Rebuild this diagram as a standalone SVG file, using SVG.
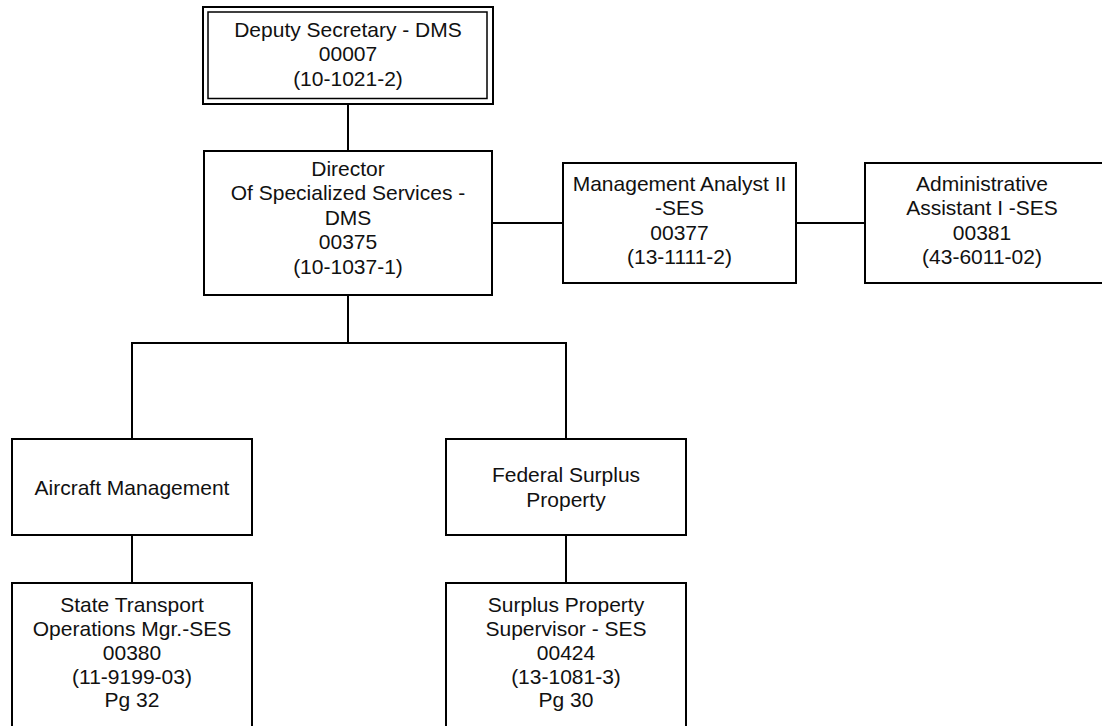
<svg xmlns="http://www.w3.org/2000/svg" width="1102" height="726" viewBox="0 0 1102 726">
  <style>
    .box { fill: #ffffff; stroke: #000000; stroke-width: 2; }
    .inner { fill: none; stroke: #000000; stroke-width: 1.5; }
    .link { fill: none; stroke: #000000; stroke-width: 2; }
    text { font-family: "Liberation Sans", Arial, sans-serif; font-size: 21px; fill: #111111; text-anchor: middle; }
  </style>
  <rect x="0" y="0" width="1102" height="726" fill="#ffffff"/>

  <!-- connectors -->
  <g id="connectors">
    <line class="link" x1="348" y1="104" x2="348" y2="151"/>
    <line class="link" x1="492" y1="223" x2="563" y2="223"/>
    <line class="link" x1="796" y1="223" x2="865" y2="223"/>
    <line class="link" x1="348" y1="295" x2="348" y2="343"/>
    <polyline class="link" points="132,439 132,343 566,343 566,439"/>
    <line class="link" x1="132" y1="535" x2="132" y2="583"/>
    <line class="link" x1="566" y1="535" x2="566" y2="583"/>
  </g>

  <!-- top position, double border -->
  <g id="deputy-secretary">
    <rect class="box" x="203" y="7" width="290" height="97" stroke-width="2.5"/>
    <rect class="inner" x="208" y="12" width="279" height="86.5"/>
    <text x="348" y="36.5">Deputy Secretary - DMS</text>
    <text x="348" y="61">00007</text>
    <text x="348" y="85.5">(10-1021-2)</text>
  </g>

  <g id="director">
    <rect class="box" x="204" y="151" width="288" height="144"/>
    <text x="348" y="175.5">Director</text>
    <text x="348" y="200">Of Specialized Services -</text>
    <text x="348" y="224.5">DMS</text>
    <text x="348" y="249">00375</text>
    <text x="348" y="273.5">(10-1037-1)</text>
  </g>

  <g id="management-analyst">
    <rect class="box" x="563" y="163" width="233" height="120"/>
    <text x="679.5" y="190.5">Management Analyst II</text>
    <text x="679.5" y="215">-SES</text>
    <text x="679.5" y="239.5">00377</text>
    <text x="679.5" y="264">(13-1111-2)</text>
  </g>

  <g id="administrative-assistant">
    <rect class="box" x="865" y="163" width="260" height="120"/>
    <text x="982" y="190.5">Administrative</text>
    <text x="982" y="215">Assistant I -SES</text>
    <text x="982" y="239.5">00381</text>
    <text x="982" y="264">(43-6011-02)</text>
  </g>

  <g id="aircraft-management">
    <rect class="box" x="12" y="439" width="240" height="96"/>
    <text x="132" y="494.5">Aircraft Management</text>
  </g>

  <g id="federal-surplus">
    <rect class="box" x="446" y="439" width="240" height="96"/>
    <text x="566" y="482">Federal Surplus</text>
    <text x="566" y="506.5">Property</text>
  </g>

  <g id="state-transport">
    <rect class="box" x="12" y="583" width="240" height="160"/>
    <text x="132" y="611.5">State Transport</text>
    <text x="132" y="635.5">Operations Mgr.-SES</text>
    <text x="132" y="659.5">00380</text>
    <text x="132" y="683.5">(11-9199-03)</text>
    <text x="132" y="707">Pg 32</text>
  </g>

  <g id="surplus-supervisor">
    <rect class="box" x="446" y="583" width="240" height="160"/>
    <text x="566" y="611.5">Surplus Property</text>
    <text x="566" y="635.5">Supervisor - SES</text>
    <text x="566" y="659.5">00424</text>
    <text x="566" y="683.5">(13-1081-3)</text>
    <text x="566" y="707">Pg 30</text>
  </g>
</svg>
